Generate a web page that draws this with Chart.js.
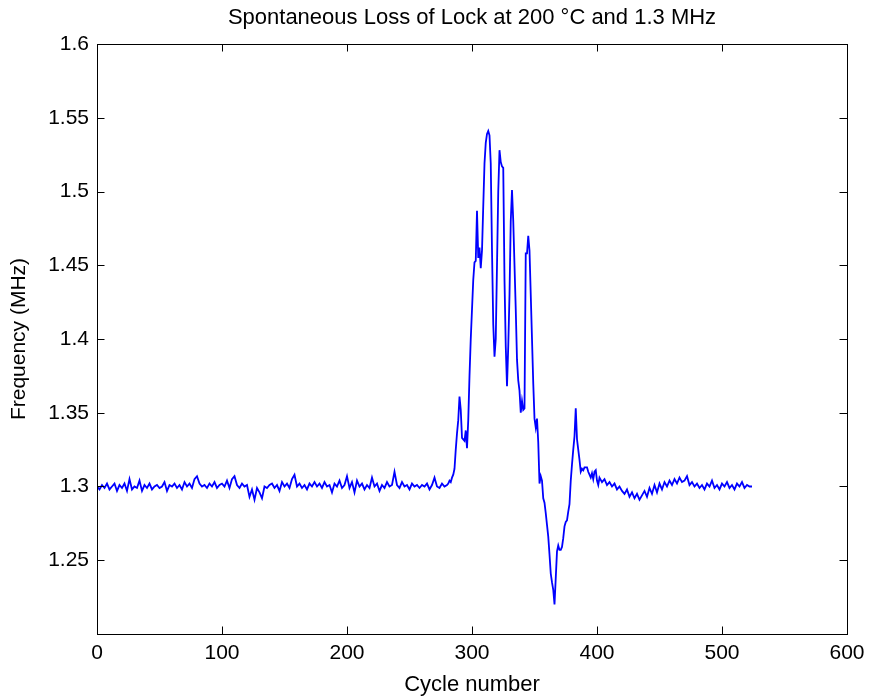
<!DOCTYPE html>
<html>
<head>
<meta charset="utf-8">
<script src="https://cdn.jsdelivr.net/npm/chart.js@4"></script>
<style>
  html, body { margin: 0; padding: 0; background: #fff; }
  canvas { display: block; }
</style>
</head>
<body>
<canvas id="lockChart" width="872" height="699"></canvas>
<script>
// Locked baseline before the event: cycles 0..280, every 2 cycles
const baseStart = 0, baseStep = 2;
const baseFreq = [
  1.300, 1.298, 1.301, 1.299, 1.302, 1.298, 1.300, 1.302, 1.297, 1.301,
  1.299, 1.302, 1.297, 1.305, 1.298, 1.300, 1.299, 1.304, 1.297, 1.301,
  1.299, 1.302, 1.298, 1.300, 1.301, 1.299, 1.300, 1.303, 1.297, 1.301,
  1.300, 1.302, 1.299, 1.301, 1.298, 1.303, 1.300, 1.302, 1.299, 1.305,
  1.307, 1.302, 1.300, 1.301, 1.299, 1.302, 1.300, 1.303, 1.299, 1.301,
  1.302, 1.300, 1.304, 1.299, 1.305, 1.307, 1.301, 1.299, 1.302, 1.300,
  1.301, 1.293, 1.298, 1.291, 1.299, 1.296, 1.292, 1.300, 1.299, 1.301,
  1.302, 1.299, 1.301, 1.297, 1.303, 1.300, 1.302, 1.299, 1.305, 1.308,
  1.300, 1.302, 1.299, 1.301, 1.298, 1.302, 1.300, 1.303, 1.300, 1.302,
  1.299, 1.303, 1.300, 1.301, 1.296, 1.302, 1.300, 1.304, 1.299, 1.301,
  1.307, 1.299, 1.303, 1.296, 1.304, 1.300, 1.302, 1.298, 1.301, 1.299,
  1.306, 1.300, 1.302, 1.297, 1.301, 1.299, 1.303, 1.300, 1.301, 1.310,
  1.301, 1.299, 1.303, 1.300, 1.301, 1.298, 1.302, 1.300, 1.301, 1.299,
  1.301, 1.300, 1.302, 1.298, 1.301, 1.306, 1.300, 1.299, 1.302, 1.300,
  1.301
];

// Loss of lock: cycles 281..401, every cycle
const eventStart = 281, eventStep = 1;
const eventFreq = [
  1.302, 1.304, 1.303, 1.306, 1.308, 1.312, 1.325, 1.336, 1.345, 1.361,
  1.352, 1.333, 1.332, 1.331, 1.338, 1.326, 1.345, 1.375, 1.400, 1.420,
  1.440, 1.452, 1.453, 1.487, 1.455, 1.462, 1.448, 1.460, 1.490, 1.519,
  1.533, 1.539, 1.541, 1.538, 1.519, 1.460, 1.410, 1.388, 1.400, 1.450,
  1.500, 1.528, 1.520, 1.517, 1.516, 1.440, 1.395, 1.368, 1.395, 1.430,
  1.480, 1.501, 1.480, 1.450, 1.420, 1.386, 1.372, 1.365, 1.350, 1.358,
  1.352, 1.353, 1.458, 1.458, 1.470, 1.460, 1.430, 1.400, 1.370, 1.346,
  1.340, 1.346, 1.330, 1.302, 1.307, 1.304, 1.292, 1.289, 1.282, 1.274,
  1.266, 1.254, 1.241, 1.235, 1.230, 1.220, 1.238, 1.256, 1.260, 1.257,
  1.257, 1.259, 1.265, 1.273, 1.276, 1.277, 1.283, 1.288, 1.304, 1.315,
  1.325, 1.334, 1.353, 1.332, 1.325, 1.318, 1.310, 1.312, 1.311, 1.313,
  1.313, 1.313, 1.310, 1.308, 1.306, 1.309, 1.305, 1.310, 1.311, 1.304,
  1.301
];

// Recovery: cycles 402..524, every 2 cycles
const tailStart = 402, tailStep = 2;
const tailFreq = [
  1.306, 1.303, 1.305, 1.301, 1.303, 1.300, 1.302, 1.298, 1.300, 1.297,
  1.295, 1.298, 1.293, 1.296, 1.292, 1.295, 1.291, 1.294, 1.297, 1.293,
  1.299, 1.295, 1.301, 1.296, 1.302, 1.298, 1.303, 1.300, 1.304, 1.301,
  1.305, 1.302, 1.306, 1.303, 1.304, 1.307, 1.301, 1.303, 1.300, 1.302,
  1.299, 1.301, 1.298, 1.302, 1.300, 1.304, 1.299, 1.301, 1.298, 1.302,
  1.300, 1.303, 1.299, 1.301, 1.298, 1.302, 1.300, 1.303, 1.299, 1.301,
  1.300, 1.300
];

const xTicks = [0, 100, 200, 300, 400, 500, 600];
const yTicks = [1.2, 1.25, 1.3, 1.35, 1.4, 1.45, 1.5, 1.55, 1.6];
const chartTitle = 'Spontaneous Loss of Lock at 200 \u00B0C and 1.3 MHz';

const points = [];
const addSegment = (start, step, vals) =>
  vals.forEach((v, i) => points.push({ x: start + i * step, y: v }));
addSegment(baseStart, baseStep, baseFreq);
addSegment(eventStart, eventStep, eventFreq);
addSegment(tailStart, tailStep, tailFreq);

const FONT = '"Liberation Sans", Arial, Helvetica, sans-serif';
const TICK_LEN = 7.5;

// MATLAB style box with inward ticks on all four sides, title over the axes
const boxPlugin = {
  id: 'matlabBox',
  afterDraw(chart) {
    const { ctx, chartArea: { left, right, top, bottom }, scales: { x, y } } = chart;
    ctx.save();
    ctx.strokeStyle = '#000';
    ctx.lineWidth = 1;
    ctx.beginPath();
    xTicks.forEach(v => {
      const px = Math.round(x.getPixelForValue(v)) + 0.5;
      ctx.moveTo(px, bottom); ctx.lineTo(px, bottom - TICK_LEN);
      ctx.moveTo(px, top); ctx.lineTo(px, top + TICK_LEN);
    });
    yTicks.forEach(v => {
      const py = Math.round(y.getPixelForValue(v)) + 0.5;
      ctx.moveTo(left, py); ctx.lineTo(left + TICK_LEN, py);
      ctx.moveTo(right, py); ctx.lineTo(right - TICK_LEN, py);
    });
    ctx.stroke();
    ctx.strokeRect(left + 0.5, top + 0.5, right - left, bottom - top);

    ctx.fillStyle = '#000';
    ctx.font = '22px ' + FONT;
    ctx.textAlign = 'center';
    ctx.textBaseline = 'middle';
    ctx.fillText(chartTitle, (left + right) / 2, 18);
    ctx.restore();
  }
};

new Chart(document.getElementById('lockChart'), {
  type: 'line',
  data: {
    datasets: [{
      data: points,
      borderColor: '#0000ff',
      borderWidth: 1.8,
      pointRadius: 0,
      tension: 0,
      fill: false
    }]
  },
  options: {
    responsive: false,
    animation: false,
    devicePixelRatio: 1,
    layout: { padding: { left: 0, right: 25, top: 44, bottom: 0 } },
    plugins: {
      legend: { display: false },
      tooltip: { enabled: false },
      title: { display: false }
    },
    scales: {
      x: {
        type: 'linear',
        min: 0,
        max: 600,
        afterBuildTicks: s => { s.ticks = xTicks.map(v => ({ value: v })); },
        afterFit: s => { s.height = 65; },
        grid: { display: false, drawTicks: false },
        border: { display: false },
        ticks: {
          color: '#000',
          padding: 7,
          maxRotation: 0,
          font: { family: FONT, size: 21 }
        },
        title: {
          display: true,
          text: 'Cycle number',
          color: '#000',
          font: { family: FONT, size: 22 },
          padding: { top: 0, bottom: 1 }
        }
      },
      y: {
        min: 1.2,
        max: 1.6,
        afterBuildTicks: s => { s.ticks = yTicks.map(v => ({ value: v })); },
        afterFit: s => { s.width = 97; },
        grid: { display: false, drawTicks: false },
        border: { display: false },
        ticks: {
          color: '#000',
          padding: 8,
          font: { family: FONT, size: 21 },
          callback: v => (Math.abs(v - 1.2) < 1e-9 ? '' : String(parseFloat(v.toFixed(2))))
        },
        title: {
          display: true,
          text: 'Frequency (MHz)',
          color: '#000',
          font: { family: FONT, size: 21 },
          padding: { top: 7, bottom: 0 }
        }
      }
    }
  },
  plugins: [boxPlugin]
});
</script>
</body>
</html>
